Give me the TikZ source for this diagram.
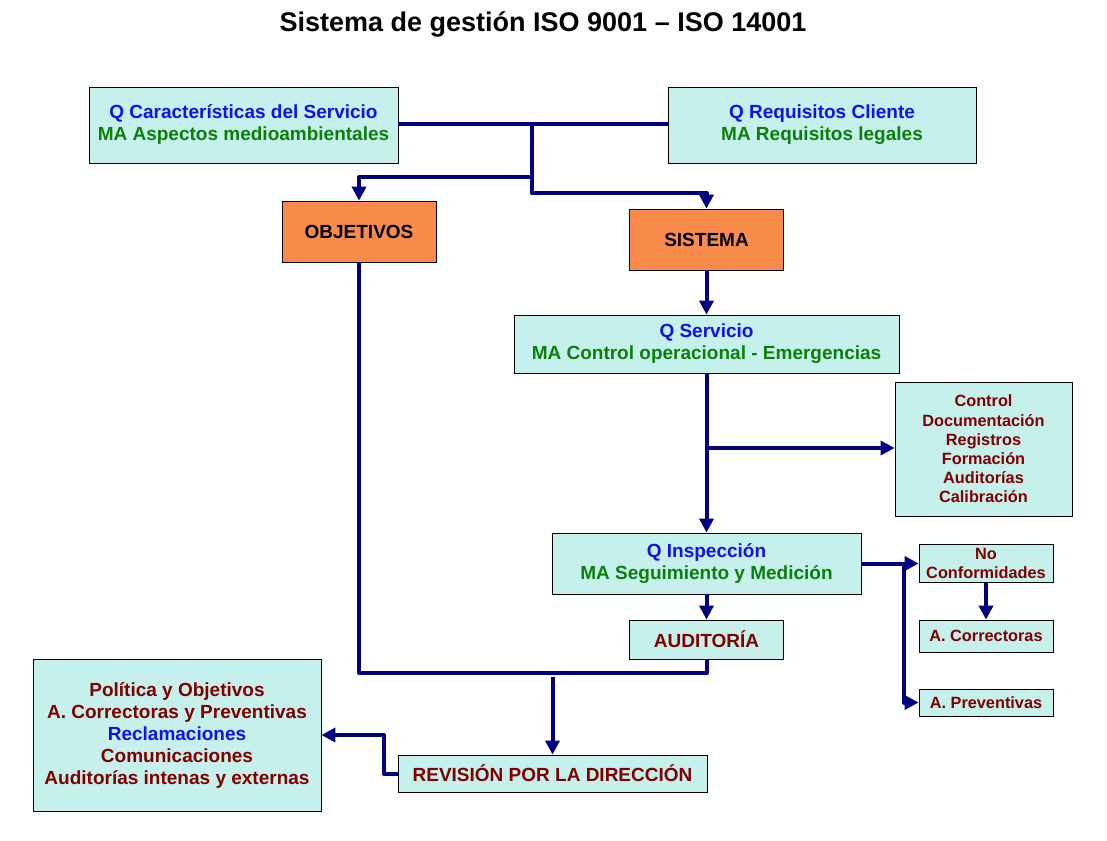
\documentclass[tikz,border=0pt]{standalone}
\usepackage{fontspec}
\setmainfont{Liberation Sans}
\usetikzlibrary{arrows.meta,calc}
\definecolor{boxfill}{HTML}{C6F0EC}
\definecolor{orangefill}{HTML}{F98B4B}
\definecolor{qblue}{HTML}{1010F0}
\definecolor{magreen}{HTML}{0A800A}
\definecolor{dred}{HTML}{800000}
\definecolor{navy}{HTML}{000080}
\tikzset{
  box/.style={draw=black, line width=0.8pt, fill=boxfill, inner sep=0pt, align=center,
    font=\bfseries\fontsize{19}{22}\selectfont},
  obox/.style={box, fill=orangefill},
  small/.style={font=\bfseries\fontsize{16.3}{19.2}\selectfont},
  conn/.style={draw=navy, line width=4pt, line join=round},
  arr/.style={conn, -{Triangle[length=14pt,width=14pt]}},
}
\begin{document}
\begin{tikzpicture}[x=1pt,y=-1pt]
\useasboundingbox (0,0) rectangle (1107,840);
\node[font=\bfseries\fontsize{27}{30}\selectfont] (title) at (543,24) {Sistema de gestión ISO 9001 – ISO 14001};

\node[box, minimum width=309, minimum height=76] (b1) at (243.5,125)
  {\textcolor{qblue}{Q Características del Servicio}\\\textcolor{magreen}{MA Aspectos medioambientales}};
\node[box, minimum width=308, minimum height=76] (b2) at (822,125)
  {\textcolor{qblue}{Q Requisitos Cliente}\\\textcolor{magreen}{MA Requisitos legales}};
\node[obox, minimum width=154, minimum height=61] (obj) at (359,231.5) {OBJETIVOS};
\node[obox, minimum width=154, minimum height=61] (sis) at (706.5,239.5) {SISTEMA};
\node[box, minimum width=385, minimum height=58] (qserv) at (706.5,344)
  {\textcolor{qblue}{Q Servicio}\\\textcolor{magreen}{MA Control operacional - Emergencias}};
\node[box, small, minimum width=177, minimum height=134, text=dred] (ctrl) at (983.5,449)
  {Control\\Documentación\\Registros\\Formación\\Auditorías\\Calibración};
\node[box, minimum width=309, minimum height=61] (qinsp) at (706.5,563.5)
  {\textcolor{qblue}{Q Inspección}\\\textcolor{magreen}{MA Seguimiento y Medición}};
\node[box, minimum width=154, minimum height=39, text=dred] (aud) at (706.5,639.5) {AUDITORÍA};
\node[box, small, minimum width=134, minimum height=38, text=dred] (noconf) at (986,563.5)
  {No\\Conformidades};
\node[box, small, minimum width=134, minimum height=32, text=dred] (acorr) at (986,636) {A. Correctoras};
\node[box, small, minimum width=134, minimum height=27, text=dred] (aprev) at (986,702.5) {A. Preventivas};
\node[box, minimum width=288, minimum height=152, text=dred] (pol) at (177,735)
  {Política y Objetivos\\A. Correctoras y Preventivas\\\textcolor{qblue}{Reclamaciones}\\Comunicaciones\\Auditorías intenas y externas};
\node[box, minimum width=309, minimum height=37, text=dred] (rev) at (552.5,773.5) {REVISIÓN POR LA DIRECCIÓN};

% connectors
\coordinate (j1) at (532,124);
\coordinate (j2) at (532,177);
\coordinate (jb) at (359,673);
\coordinate (j3) at (552.5,677);
\coordinate (j4) at (706.5,448);
\coordinate (j5) at (904,563.5);
\draw[conn] (b1.east |- j1) -- (b2.west |- j1);
\draw[arr] (j1) -- (532,193) -| (sis.north);
\draw[arr] (j2) -| (obj.north);
\draw[conn] (obj.south) -- (jb) -| (aud.south);
\draw[arr] (j3) -- (rev.north);
\draw[arr] (sis.south) -- (qserv.north);
\draw[arr] (qserv.south) -- (qinsp.north);
\draw[arr] (j4) -- (ctrl.west |- j4);
\draw[arr] (qinsp.south) -- (aud.north);
\draw[arr] (qinsp.east) -- (noconf.west);
\draw[arr] (j5) |- (aprev.west);
\draw[arr] (noconf.south) -- (acorr.north);
\draw[arr] (rev.west) -- ++(-14,0) |- (pol.east);
\end{tikzpicture}
\end{document}
